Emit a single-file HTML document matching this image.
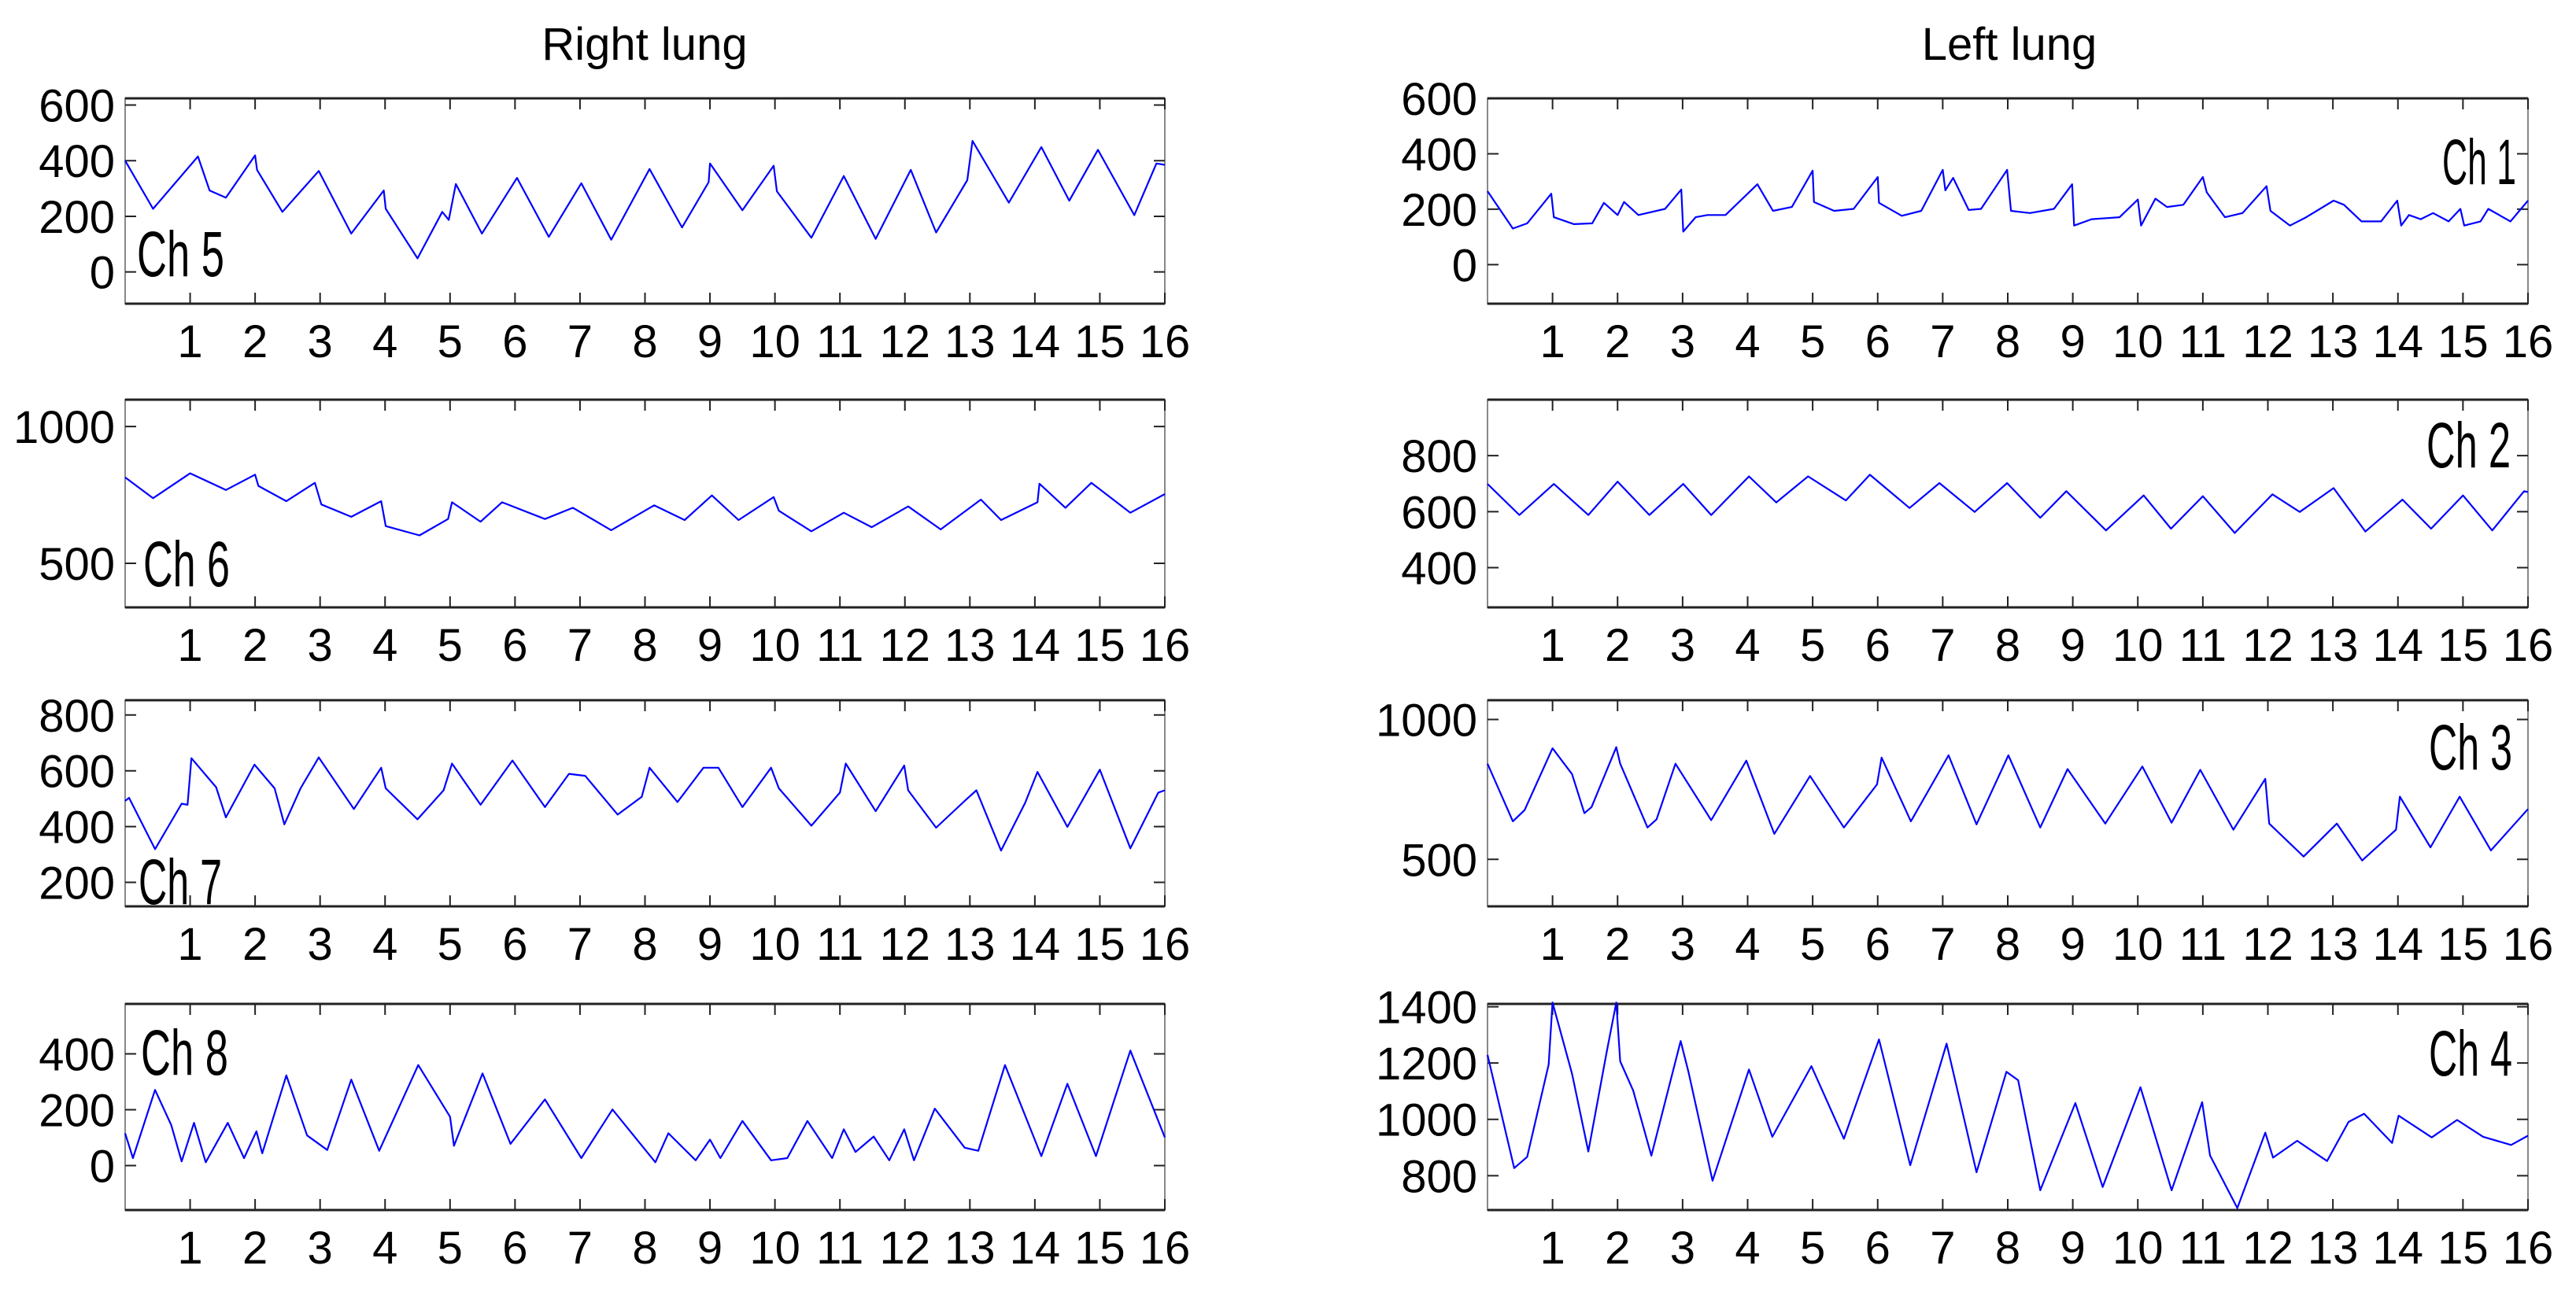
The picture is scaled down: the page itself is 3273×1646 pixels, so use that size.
<!DOCTYPE html>
<html><head><meta charset="utf-8"><style>
html,body{margin:0;padding:0;background:#fff}
svg text{font-family:"Liberation Sans",sans-serif}
</style></head><body>
<svg id="fig" xmlns="http://www.w3.org/2000/svg" width="3273" height="1641" viewBox="0 0 3273 1641">
<rect width="3273" height="1641" fill="#fff"/>
<text x="819" y="76" font-size="58" text-anchor="middle">Right lung</text>
<text x="2553" y="76" font-size="58" text-anchor="middle">Left lung</text>
</svg>
<script>
// x tick labels shared by all panels
const xTicks = [1,2,3,4,5,6,7,8,9,10,11,12,13,14,15,16];

const ch5T = [0,0.43,1.12,1.3,1.55,2.0,2.03,2.42,2.98,3.48,3.98,4.01,4.5,4.88,4.98,5.09,5.49,6.03,6.52,7.02,7.48,8.07,8.57,8.98,9.0,9.5,9.98,10.03,10.56,11.06,11.55,12.09,12.48,12.96,13.04,13.6,14.1,14.53,14.97,15.53,15.87,16];
const ch5V = [400,227,415,293,267,419,367,216,363,138,293,227,49,216,187,316,138,338,126,319,116,370,160,323,390,222,382,290,123,345,119,367,142,330,471,249,449,256,439,204,390,385];
const ch6T = [0,0.43,1.0,1.55,2,2.05,2.48,2.92,3.02,3.48,3.94,4.01,4.53,4.97,5.03,5.47,5.8,6.46,6.89,7.48,8.14,8.61,9.03,9.44,9.98,10.06,10.56,11.06,11.49,12.05,12.55,13.17,13.48,14.04,14.07,14.47,14.87,15.47,16];
const ch6V = [814,738,829,768,824,783,727,794,715,670,727,636,602,662,723,652,723,662,703,621,712,658,748,658,742,692,617,685,632,708,624,733,658,723,791,703,794,685,753];
const ch7T = [0,0.06,0.46,0.87,0.96,1.02,1.4,1.55,1.99,2.3,2.45,2.7,2.98,3.52,3.94,4.01,4.5,4.9,5.03,5.47,5.96,6.46,6.83,7.08,7.58,7.95,8.07,8.5,8.9,9.13,9.5,9.94,10.06,10.56,11.0,11.09,11.55,11.99,12.05,12.48,12.92,13.1,13.48,13.85,14.04,14.5,15.0,15.47,15.9,16];
const ch7V = [492,503,319,482,478,645,541,433,622,537,408,537,648,463,611,537,426,530,626,478,637,470,589,582,443,507,611,488,611,611,470,611,537,403,522,626,455,619,530,396,492,530,314,485,596,399,604,322,522,530];
const ch8T = [0,0.12,0.46,0.71,0.87,1.06,1.24,1.58,1.83,2.02,2.11,2.48,2.8,3.11,3.48,3.91,4.51,5.0,5.06,5.5,5.93,6.46,7.02,7.5,8.16,8.36,8.78,9.0,9.16,9.5,9.94,10.19,10.5,10.88,11.06,11.24,11.52,11.76,11.99,12.14,12.46,12.92,13.13,13.54,14.1,14.5,14.94,15.47,16];
const ch8V = [116,27,271,145,15,153,12,153,27,123,44,323,108,56,308,53,360,175,71,330,78,237,27,201,12,116,19,93,27,160,19,27,160,27,130,49,104,19,130,19,204,64,53,360,34,293,34,412,101];
const ch1T = [0,0.39,0.61,0.98,1.02,1.33,1.61,1.79,2.0,2.1,2.32,2.73,2.98,3.01,3.2,3.38,3.66,4.15,4.39,4.68,5.0,5.02,5.33,5.63,6.0,6.02,6.37,6.67,7.0,7.04,7.16,7.4,7.59,7.99,8.05,8.34,8.71,8.99,9.02,9.29,9.72,10.0,10.05,10.27,10.45,10.7,11.0,11.06,11.34,11.61,11.98,12.04,12.34,12.59,13.01,13.17,13.44,13.74,13.99,14.05,14.17,14.35,14.54,14.78,14.96,15.02,15.27,15.39,15.73,16];
const ch1V = [265,130,149,256,171,146,149,223,179,226,179,201,271,119,171,179,179,290,194,208,339,226,194,201,316,223,176,194,342,268,313,197,201,342,194,186,201,290,141,164,171,235,141,238,208,216,316,261,171,186,283,194,141,171,231,216,156,156,231,141,179,164,186,156,201,141,156,201,156,231];
const ch2T = [0,0.49,1.02,1.55,2.0,2.49,3.01,3.44,4.02,4.44,4.93,5.51,5.88,6.49,6.95,7.49,7.99,8.5,8.9,9.51,10.09,10.51,11.0,11.49,12.07,12.49,13.01,13.5,14.07,14.51,15.0,15.45,15.94,16];
const ch2V = [699,588,699,588,707,588,699,588,726,633,726,640,732,613,702,599,702,578,673,533,658,539,655,524,662,599,684,529,643,539,658,533,673,670];
const ch3T = [0,0.39,0.57,1,1.3,1.49,1.6,1.98,2.04,2.46,2.6,2.89,3.44,3.98,4.41,4.96,5.48,5.99,6.06,6.51,7.09,7.52,8.01,8.5,8.92,9.5,10.07,10.52,10.96,11.47,11.96,12.02,12.55,13.06,13.45,13.97,14.03,14.5,14.95,15.43,16];
const ch3V = [842,636,676,897,805,665,687,901,842,614,643,842,640,853,591,798,614,768,864,636,872,625,872,614,823,628,832,631,820,606,788,628,510,628,496,606,724,543,724,532,680];
const ch4T = [0,0.41,0.61,0.94,1,1.3,1.55,1.83,1.98,2.04,2.24,2.52,2.97,3.09,3.46,4.02,4.38,4.98,5.48,6.02,6.5,7.06,7.52,7.98,8.16,8.5,9.04,9.46,10.04,10.52,10.99,11.11,11.53,11.96,12.08,12.45,12.91,13.24,13.48,13.91,14.01,14.52,14.91,15.31,15.74,16];
const ch4V = [1229,827,867,1195,1415,1162,886,1236,1415,1206,1102,871,1278,1169,782,1177,938,1189,931,1284,837,1269,812,1169,1139,748,1058,760,1114,748,1061,872,685,953,864,924,852,991,1020,916,1013,936,998,938,909,942];

const ch5Ticks=[0,200,400,600], ch6Ticks=[500,1000], ch7Ticks=[200,400,600,800], ch8Ticks=[0,200,400];
const ch1Ticks=[0,200,400,600], ch2Ticks=[400,600,800], ch3Ticks=[500,1000], ch4Ticks=[800,1000,1200,1400];

const NS="http://www.w3.org/2000/svg";
const svg=document.getElementById('fig');
function mk(tag,attrs,parent){const e=document.createElementNS(NS,tag);for(const k in attrs)e.setAttribute(k,attrs[k]);(parent||svg).appendChild(e);return e;}

const COLS=[[159,1480],[1890,3212]];
const ROWS=[[125,386],[508,772],[890,1152],[1276,1538]];

function panel(name,col,row,ymin,ymax,yt,T,V,label,lx,ly,lw){
  const [x0,x1]=COLS[col],[y0,y1]=ROWS[row];
  const g=mk('g',{});
  
  
  const xs=t=>x0+(x1-x0)*t/16;
  const ys=v=>y1-(y1-y0)*(v-ymin)/(ymax-ymin);
  const box=mk('rect',{x:x0,y:y0,width:x1-x0,height:y1-y0,fill:'none',stroke:'#888','stroke-width':2},g);
  
  
  const tb=mk('path',{d:`M${x0} ${y0}H${x1}M${x0} ${y1}H${x1}`,stroke:'#222','stroke-width':3,fill:'none'},g);
  
  
  xTicks.forEach(t=>{
    const x=xs(t);
    mk('path',{d:`M${x} ${y1}v-14M${x} ${y0}v14`,stroke:'#222','stroke-width':2},g);
    const tx=mk('text',{x:x,y:y1+68,'font-size':58,'text-anchor':'middle'},g);
    tx.textContent=t;
    
    
  });
  yt.forEach(v=>{
    const y=ys(v);
    mk('path',{d:`M${x0} ${y}h14M${x1} ${y}h-14`,stroke:'#222','stroke-width':2},g);
    const tx=mk('text',{x:x0-13,y:y+21,'font-size':58,'text-anchor':'end'},g);
    tx.textContent=v;
    
    
  });
  let d='';
  T.forEach((t,i)=>{d+=(i?'L':'M')+xs(t).toFixed(1)+' '+ys(V[i]).toFixed(1);});
  const ln=mk('path',{d:d,fill:'none',stroke:'#0000ff','stroke-width':2.2,'stroke-linejoin':'round'},g);
  
  
  const lb=mk('text',{x:lx,y:ly,'font-size':82,textLength:lw,lengthAdjust:'spacingAndGlyphs'},g);
  lb.textContent=label;
  
  
}
panel('ch5',0,0,-114,624,ch5Ticks,ch5T,ch5V,'Ch 5',174,351,111);
panel('ch6',0,1,339,1098,ch6Ticks,ch6T,ch6V,'Ch 6',182,745,110);
panel('ch7',0,2,114,853,ch7Ticks,ch7T,ch7V,'Ch 7',176,1149,106);
panel('ch8',0,3,-159,579,ch8Ticks,ch8T,ch8V,'Ch 8',179,1366,111);
panel('ch1',1,0,-141,600,ch1Ticks,ch1T,ch1V,'Ch 1',3103,234,94);
panel('ch2',1,1,258,1000,ch2Ticks,ch2T,ch2V,'Ch 2',3083,594,107);
panel('ch3',1,2,332,1069,ch3Ticks,ch3T,ch3V,'Ch 3',3086,978,106);
panel('ch4',1,3,678,1410,ch4Ticks,ch4T,ch4V,'Ch 4',3086,1367,106);
</script>
</body></html>
